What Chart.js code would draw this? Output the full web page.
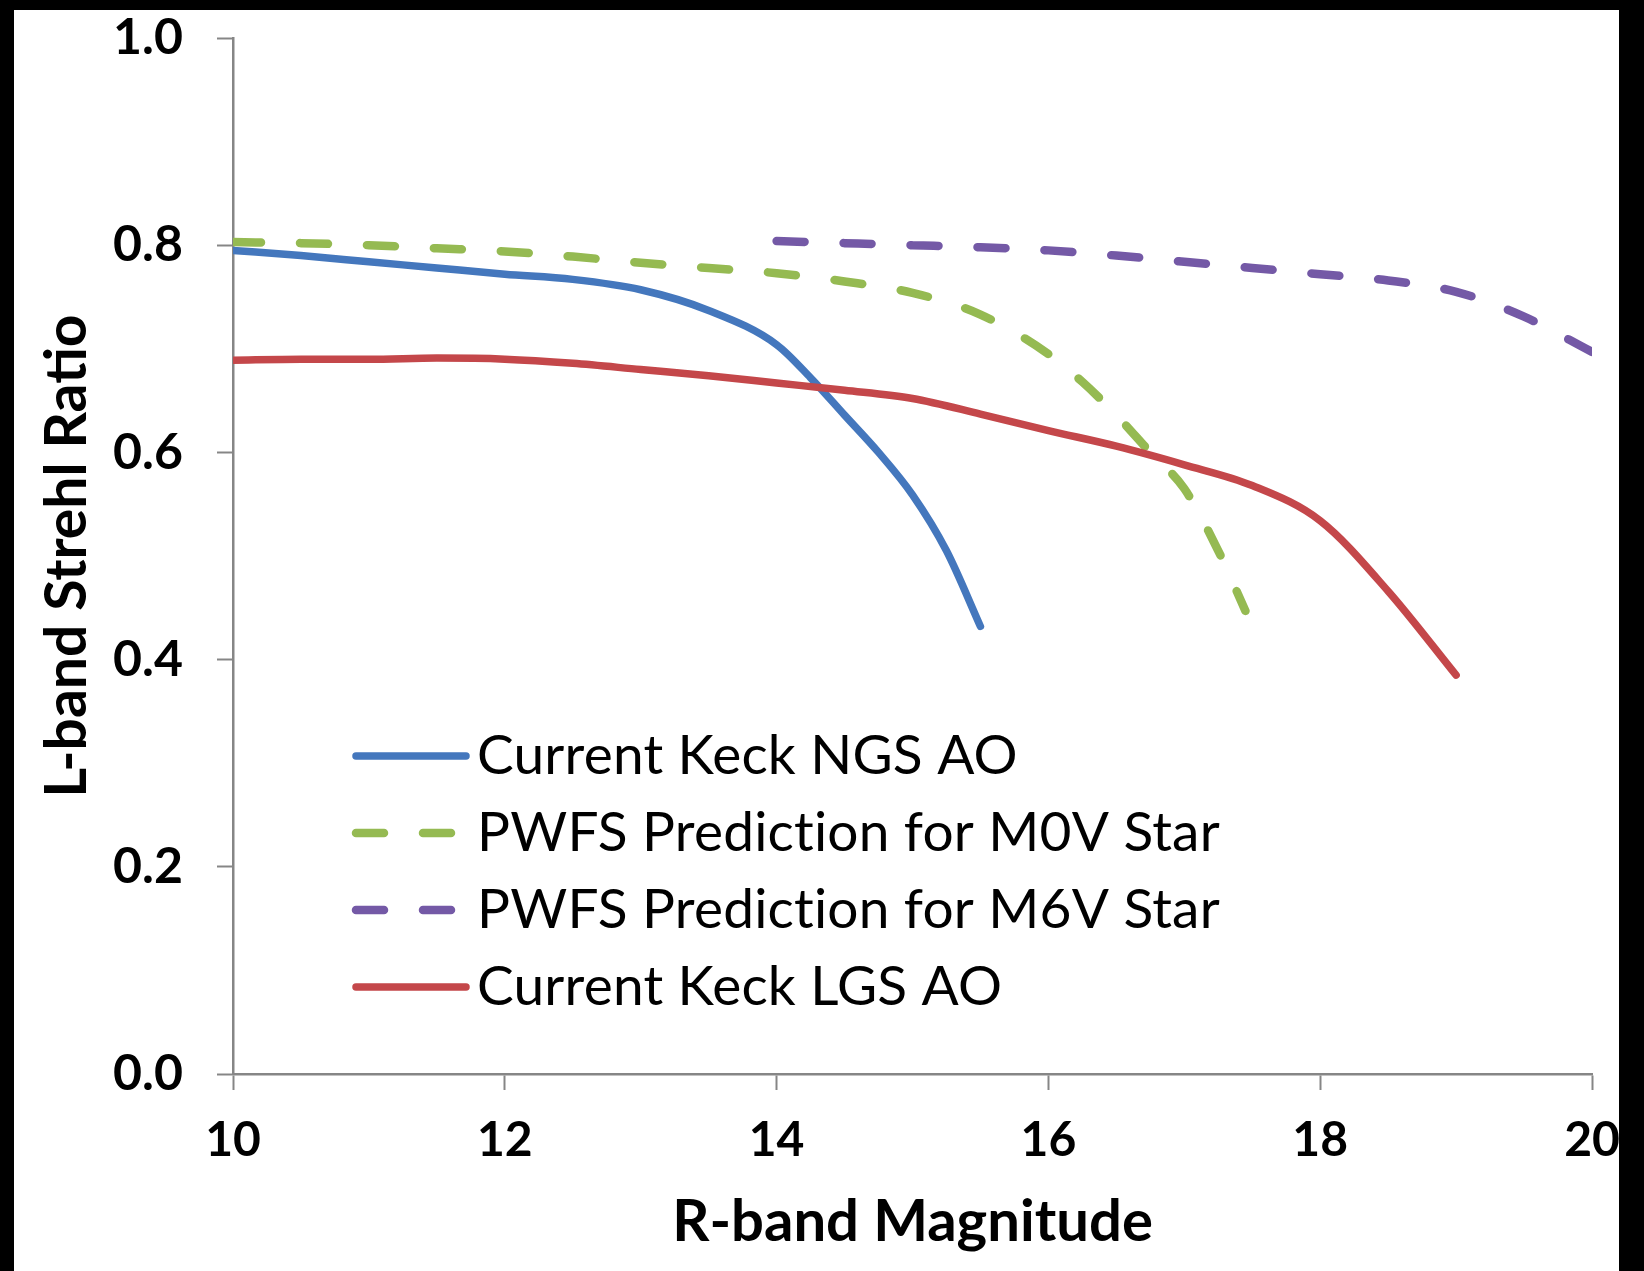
<!DOCTYPE html>
<html>
<head>
<meta charset="utf-8">
<title>L-band Strehl Ratio vs R-band Magnitude</title>
<script src="https://cdn.jsdelivr.net/npm/chart.js@4.4.1/dist/chart.umd.min.js"></script>
<style>
  html, body { margin: 0; padding: 0; background: #000; }
  #frame { position: absolute; left: 14px; top: 10px; width: 1605px; height: 1261px; overflow: hidden; background: #fff; }
  #chart-box { position: relative; width: 1700px; height: 1261px; }
</style>
</head>
<body>
<div id="frame"><div id="chart-box"><canvas id="strehl-chart"></canvas></div></div>
<script>
// Current Keck NGS AO
const ngsMag = [10, 10.5, 11, 11.5, 12, 12.5, 13, 13.5, 14, 14.25, 14.5, 14.75, 15, 15.25, 15.5];
const ngsStrehl = [0.795, 0.790, 0.784, 0.778, 0.772, 0.767, 0.757, 0.737, 0.704, 0.672, 0.636, 0.600, 0.559, 0.505, 0.432];

// PWFS prediction, M0V star
const m0vMag = [10, 10.5, 11, 11.5, 12, 12.5, 13, 13.5, 14, 14.5, 15, 15.5, 16, 16.25, 16.5, 16.75, 17, 17.25, 17.45];
const m0vStrehl = [0.803, 0.802, 0.800, 0.797, 0.794, 0.789, 0.783, 0.778, 0.773, 0.765, 0.754, 0.733, 0.695, 0.668, 0.636, 0.600, 0.565, 0.505, 0.447];

// PWFS prediction, M6V star
const m6vMag = [14, 14.5, 15, 15.5, 16, 16.5, 17, 17.5, 18, 18.5, 19, 19.5, 20];
const m6vStrehl = [0.804, 0.802, 0.800, 0.798, 0.795, 0.790, 0.784, 0.778, 0.772, 0.766, 0.755, 0.731, 0.697];

// Current Keck LGS AO
const lgsMag = [10, 10.5, 11, 11.5, 12, 12.5, 13, 13.5, 14, 14.5, 15, 15.5, 16, 16.5, 17, 17.5, 18, 18.5, 19];
const lgsStrehl = [0.689, 0.690, 0.690, 0.691, 0.690, 0.686, 0.680, 0.674, 0.667, 0.660, 0.652, 0.637, 0.621, 0.606, 0.588, 0.568, 0.534, 0.466, 0.385];

const seriesLabels = ['Current Keck NGS AO', 'PWFS Prediction for M0V Star', 'PWFS Prediction for M6V Star', 'Current Keck LGS AO'];
const xTicks = [10, 12, 14, 16, 18, 20];
const yTicks = [0, 0.2, 0.4, 0.6, 0.8, 1.0];

const axisGray = '#868686';

// zip magnitude/strehl arrays into {x, y} points
function toPoints(xs, ys) {
  return xs.map((x, i) => ({ x: x, y: ys[i] }));
}

// legend drawn inside the plot, like the original
const insideLegend = {
  id: 'insideLegend',
  afterDatasetsDraw(chart, args, opts) {
    const ctx = chart.ctx;
    ctx.save();
    chart.data.datasets.forEach((ds, i) => {
      const y = opts.top + i * opts.rowGap;
      ctx.beginPath();
      ctx.strokeStyle = ds.borderColor;
      ctx.lineWidth = ds.borderWidth;
      ctx.lineCap = 'round';
      ctx.setLineDash(ds.borderDash || []);
      ctx.moveTo(opts.lineStart, y);
      ctx.lineTo(opts.lineEnd, y);
      ctx.stroke();
      ctx.setLineDash([]);
      ctx.fillStyle = '#000';
      ctx.font = opts.font;
      ctx.textBaseline = 'middle';
      // no "ti" ligature, the original font has none
      if ('textRendering' in ctx) ctx.textRendering = 'optimizeSpeed';
      if ('letterSpacing' in ctx) ctx.letterSpacing = '0.2px';
      ctx.fillText(ds.label, opts.textX, y);
    });
    ctx.restore();
  }
};

function lineSet(label, xs, ys, color, dash, order) {
  return {
    label: label,
    data: toPoints(xs, ys),
    borderColor: color,
    backgroundColor: color,
    borderWidth: dash ? 8.5 : 7.5,
    borderDash: dash || [],
    borderCapStyle: 'round',
    borderJoinStyle: 'round',
    cubicInterpolationMode: 'monotone',
    pointRadius: 0,
    fill: false,
    order: order
  };
}

function buildChart() {
  const ctx = document.getElementById('strehl-chart').getContext('2d');
  new Chart(ctx, {
    type: 'line',
    data: {
      datasets: [
        lineSet(seriesLabels[0], ngsMag, ngsStrehl, '#4477BD', null, 4),
        lineSet(seriesLabels[1], m0vMag, m0vStrehl, '#95BA52', [28, 39], 3),
        lineSet(seriesLabels[2], m6vMag, m6vStrehl, '#7459A6', [28, 39], 2),
        lineSet(seriesLabels[3], lgsMag, lgsStrehl, '#C4474A', null, 1)
      ]
    },
    options: {
      responsive: true,
      maintainAspectRatio: false,
      animation: false,
      layout: { padding: { top: 28, right: 122, bottom: 0, left: 0 } },
      plugins: {
        legend: { display: false },
        tooltip: { enabled: false },
        insideLegend: {
          lineStart: 342, lineEnd: 452, textX: 463, top: 746, rowGap: 77,
          font: '55px Lato'
        }
      },
      scales: {
        x: {
          type: 'linear',
          min: 10,
          max: 20,
          afterBuildTicks: (scale) => { scale.ticks = xTicks.map(v => ({ value: v })); },
          afterFit: (scale) => { scale.height = 197; },
          ticks: {
            color: '#000',
            padding: 22,
            maxRotation: 0,
            font: { family: 'Lato', weight: 'bold', size: 48 }
          },
          grid: { drawOnChartArea: false, drawTicks: true, tickLength: 16, tickColor: axisGray, tickWidth: 2 },
          border: { color: axisGray, width: 2.5 },
          title: {
            display: true,
            text: 'R-band Magnitude',
            color: '#000',
            font: { family: 'Lato', weight: 'bold', size: 58 },
            padding: { top: 0, bottom: 14 }
          }
        },
        y: {
          type: 'linear',
          min: 0,
          max: 1,
          afterBuildTicks: (scale) => { scale.ticks = yTicks.map(v => ({ value: v })); },
          afterFit: (scale) => {
            scale.width = 219;
            // keep the plot top at the 1.0 tick, as in the original
            scale.paddingTop = 28;
            scale.paddingBottom = 28;
          },
          ticks: {
            color: '#000',
            padding: 34,
            font: { family: 'Lato', weight: 'bold', size: 50 },
            callback: (v) => Number(v).toFixed(1)
          },
          grid: { drawOnChartArea: false, drawTicks: true, tickLength: 16, tickColor: axisGray, tickWidth: 2 },
          border: { color: axisGray, width: 2.5 },
          title: {
            display: true,
            text: 'L-band Strehl Ratio',
            color: '#000',
            font: { family: 'Lato', weight: 'bold', size: 57 },
            padding: { top: 19, bottom: 0 }
          }
        }
      }
    },
    plugins: [insideLegend]
  });
}

Promise.all([
  document.fonts.load('bold 48px Lato'),
  document.fonts.load('55px Lato')
]).then(buildChart, buildChart);
</script>
</body>
</html>
